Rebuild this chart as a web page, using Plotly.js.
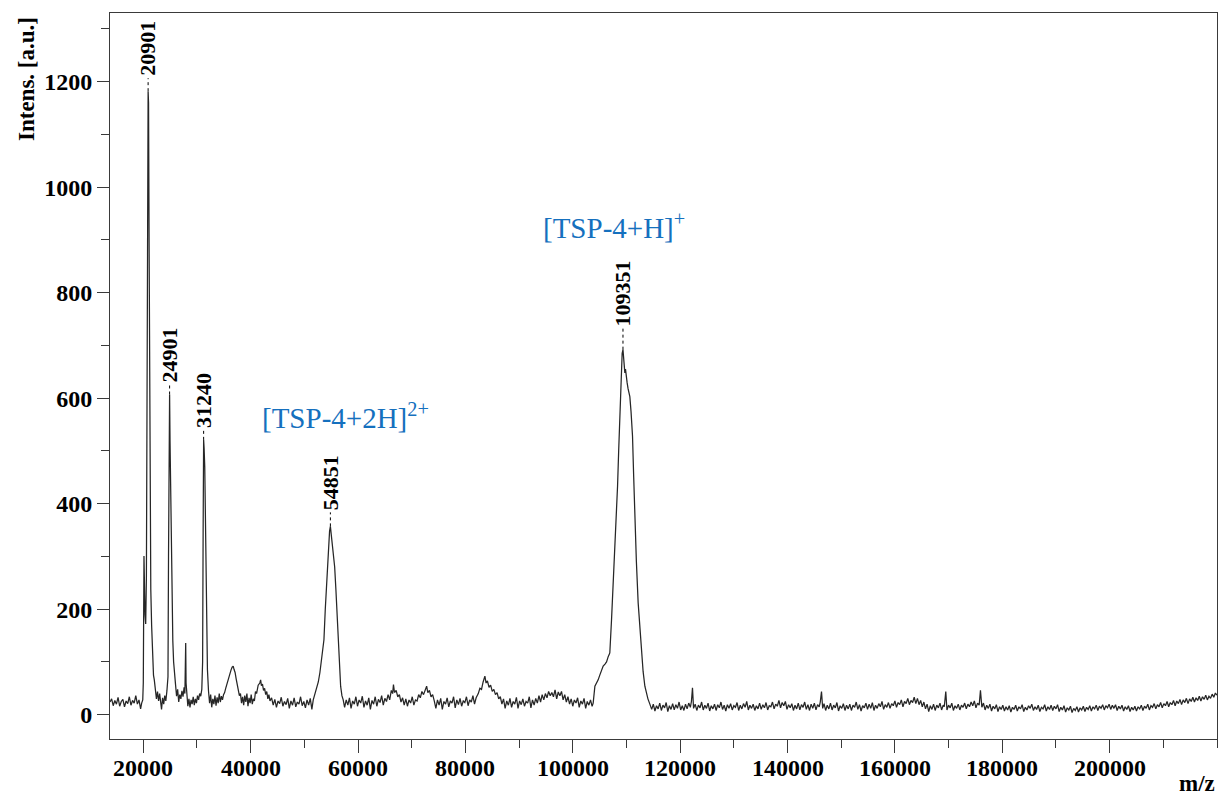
<!DOCTYPE html>
<html>
<head>
<meta charset="utf-8">
<script src="https://cdn.plot.ly/plotly-3.0.1.min.js"></script>
<style>html,body{margin:0;padding:0;background:#fff;}#chart{width:1220px;height:797px;}</style>
</head>
<body>
<div id="chart"></div>
<script>
// Spectrum as [m/z, intensity] pairs, by region
const lowMassRegion = [
[13800,24],[14100,30],[14400,17],[14700,27],[15000,20],[15300,33],[15600,16],[15900,25],[16200,29],[16500,15],
[16800,26],[17100,21],[17400,34],[17700,18],[18000,27],[18300,22],[18600,36],[18900,20],[19200,28],[19500,11],
[19700,22],[19900,28],[20000,60],[20060,180],[20130,301],[20200,260],[20320,190],[20450,172],[20580,260],[20700,600],
[20800,1000],[20901,1182],[20980,1160],[21080,900],[21200,500],[21300,280],[21400,237],[21550,170],[21750,88],[21900,75],
[22050,66],[22250,48],[22450,30],[22650,44],[22850,26],[23050,40],[23250,18],[23400,10],[23600,32],[23800,20],
[24000,36],[24200,26],[24400,45],[24600,72],[24700,300],[24760,487],[24830,540],[24901,607],[24980,520],[25080,420],
[25200,320],[25350,220],[25500,140],[25650,100],[25800,75],[26000,58],[26200,35],[26400,48],[26600,24],[26800,38],
[27000,30],[27200,45],[27400,34],[27600,52],[27750,40],[27830,90],[27900,136],[27970,60],[28100,32],[28300,16],
[28500,30],[28700,14],[28900,28],[29100,20],[29300,34],[29500,18],[29700,30],[29900,22],[30100,36],[30300,28],
[30500,40],[30700,35],[30900,48],[31050,100],[31150,350],[31240,521],[31330,505],[31450,470],[31550,400],[31680,260],
[31800,136],[31950,85],[32150,45],[32350,22],[32550,38],[32750,14],[32950,30],[33150,20],[33350,36],[33550,17],
[33750,33],[33950,22],[34150,40],[34350,24],[34550,35],[34750,28],[34950,38],[35150,42],[35350,50],[35550,58],
[35750,66],[35950,74],[36150,80],[36350,85],[36550,90],[36750,92],[36900,86],[37100,80],[37300,68],[37500,56],
[37700,44],[37900,36],[38100,40],[38300,22],[38500,34],[38700,18],[38900,36],[39100,24],[39300,40],[39500,16],
[39700,32],[39900,22],[40100,38],[40300,20],[40500,30],[40700,26],[40900,44],[41100,40],[41400,56],[41700,60],
[41860,66],[42000,55],[42200,58],[42400,46],[42600,50],[42800,38],[43000,44],[43200,30],[43400,38],[43600,26]
];
const dimerRegion = [
[43900,32],[44200,18],[44500,29],[44800,14],[45100,26],[45400,21],[45700,33],[46000,16],[46300,25],[46600,19],
[46900,31],[47200,12],[47500,26],[47800,18],[48100,32],[48400,15],[48700,24],[49000,20],[49300,34],[49600,17],
[49900,25],[50200,13],[50500,28],[50800,18],[51100,31],[51400,10],[51660,28],[52000,40],[52300,54],[52600,62],
[52900,80],[53300,110],[53650,142],[53900,200],[54150,256],[54350,300],[54580,338],[54700,348],[54851,357],[54980,345],
[55150,330],[55380,313],[55650,280],[55880,237],[56100,185],[56380,129],[56550,88],[56760,54],[57000,36],[57240,28],
[57500,14],[57800,28],[58100,18],[58400,32],[58700,12],[59000,26],[59300,20],[59600,34],[59900,16],[60200,28],
[60500,22],[60800,35],[61100,14],[61400,26],[61700,18],[62000,32],[62300,10],[62600,27],[62900,20],[63200,34],
[63500,16],[63800,29],[64100,23],[64400,36],[64700,18],[65000,31],[65300,25],[65600,38],[65900,28],[66200,46],
[66450,40],[66600,57],[66800,42],[67100,46],[67400,34],[67700,38],[68000,24],[68300,32],[68600,18],[68900,30],
[69200,16],[69500,28],[69800,22],[70100,34],[70400,18],[70700,28],[71000,26],[71300,38],[71600,32],[71900,44],
[72200,38],[72500,48],[72780,54],[73000,42],[73300,46],[73600,34],[73900,38],[74200,26],[74500,12],[74800,28],
[75100,18],[75400,31],[75700,10],[76000,25],[76300,20],[76600,32],[76900,15],[77200,26],[77500,22],[77800,34],
[78100,13],[78400,28],[78700,19],[79000,31],[79300,16],[79600,26],[79900,23],[80200,34],[80500,17],[80800,28],
[81100,24],[81400,36],[81700,20],[82000,32],[82400,40],[82700,50],[83000,48],[83300,62],[83630,73],[83850,60],
[84100,64],[84400,52],[84700,56],[85000,44],[85300,48],[85600,38],[85900,42],[86200,30],[86500,34],[86800,20],
[87100,30],[87400,12],[87700,26],[88000,18],[88300,31],[88600,14],[88900,25],[89200,20],[89500,33],[89800,12],
[90100,26],[90400,19],[90700,30],[91000,16],[91300,25],[91600,22],[91900,34],[92200,13],[92500,28],[92800,18],
[93100,31],[93400,22],[93700,36],[94000,24],[94300,38],[94600,28],[94900,40],[95200,32],[95500,44],[95800,36],
[96100,42],[96400,34],[96700,47],[97000,30],[97300,43],[97600,36],[97900,44],[98200,28],[98500,38],[98800,24],
[99100,34],[99400,20],[99700,30],[100000,16],[100300,28],[100600,22],[100900,32],[101200,14],[101500,26],[101800,20],
[102100,31],[102400,12],[102700,25],[103000,18],[103300,28],[103600,16],[103800,22]
];
const monomerRegion = [
[104120,54],[104500,60],[104730,66],[105000,74],[105300,84],[105660,92],[106000,96],[106290,100],[106600,110],[106900,117],
[107220,180],[107500,240],[107840,300],[108100,370],[108340,433],[108550,500],[108770,559],[108950,625],[109080,667],[109200,685],
[109351,692],[109450,672],[109580,660],[109700,648],[109820,655],[109950,636],[110130,629],[110300,618],[110480,610],[110630,603],
[110850,575],[111130,528],[111350,450],[111560,370],[111850,290],[112180,212],[112500,160],[112810,117],[113100,82],[113430,54],
[113700,40],[114000,30],[114360,20]
];
const highMassRegion = [
[114700,10],[115000,20],[115300,7],[115600,17],[115900,11],[116200,22],[116500,8],[116800,18],[117100,13],[117400,23],
[117700,6],[118000,17],[118300,10],[118600,21],[118900,9],[119200,19],[119500,12],[119800,24],[120100,9],[120400,17],
[120700,8],[121000,20],[121300,11],[121600,22],[121900,14],[122100,25],[122300,51],[122500,12],[122800,20],[123100,8],
[123400,18],[123700,13],[124000,24],[124300,9],[124600,18],[124900,12],[125200,22],[125500,7],[125800,17],[126100,11],
[126400,20],[126700,8],[127000,19],[127300,13],[127600,24],[127900,10],[128200,18],[128500,7],[128800,19],[129100,12],
[129400,21],[129700,9],[130000,17],[130300,14],[130600,23],[130900,8],[131200,18],[131500,11],[131800,21],[132100,14],
[132400,25],[132700,9],[133000,18],[133300,12],[133600,20],[133900,8],[134200,17],[134500,11],[134800,22],[135100,10],
[135400,19],[135700,13],[136000,23],[136300,9],[136600,17],[136900,15],[137200,24],[137500,11],[137800,20],[138100,16],
[138400,27],[138700,13],[139000,23],[139300,17],[139600,25],[139900,10],[140200,19],[140500,13],[140800,21],[141100,8],
[141400,18],[141700,11],[142000,22],[142300,9],[142600,19],[142900,14],[143200,24],[143500,10],[143800,19],[144100,8],
[144400,20],[144700,12],[145000,22],[145300,9],[145600,19],[145900,15],[146100,24],[146330,44],[146550,12],[146800,21],
[147100,8],[147400,18],[147700,11],[148000,22],[148300,9],[148600,18],[148900,13],[149200,23],[149500,7],[149800,17],
[150100,12],[150400,21],[150700,8],[151000,18],[151300,11],[151600,20],[151900,8],[152200,18],[152500,14],[152800,24],
[153100,10],[153400,19],[153700,7],[154000,17],[154300,13],[154600,22],[154900,10],[155200,20],[155500,12],[155800,23],
[156100,8],[156400,18],[156700,12],[157000,21],[157300,15],[157600,25],[157900,10],[158200,19],[158500,14],[158800,23],
[159100,12],[159400,21],[159700,17],[160000,26],[160300,14],[160600,23],[160900,19],[161200,28],[161500,15],[161800,25],
[162100,21],[162400,31],[162700,19],[163000,27],[163300,23],[163600,33],[163900,21],[164200,31],[164500,19],[164800,27],
[165100,15],[165400,24],[165700,11],[166000,20],[166300,6],[166600,17],[166900,10],[167200,20],[167500,8],[167800,18],
[168100,13],[168400,22],[168700,9],[169000,18],[169200,15],[169480,44],[169700,9],[170000,18],[170300,13],[170600,22],
[170900,8],[171200,17],[171500,12],[171800,20],[172100,9],[172400,18],[172700,14],[173000,22],[173300,11],[173600,20],
[173900,15],[174200,24],[174500,17],[174800,26],[175100,13],[175400,22],[175700,18],[175940,46],[176200,14],[176500,22],
[176800,9],[177100,18],[177400,12],[177700,20],[178000,7],[178300,16],[178600,11],[178900,19],[179200,6],[179500,15],
[179800,10],[180100,18],[180400,7],[180700,15],[181000,9],[181300,17],[181600,5],[181900,14],[182200,10],[182500,18],
[182800,7],[183100,15],[183400,11],[183700,19],[184000,6],[184300,14],[184600,9],[184900,17],[185200,12],[185500,20],
[185800,8],[186100,15],[186400,10],[186700,18],[187000,6],[187300,14],[187600,11],[187900,19],[188200,7],[188500,15],
[188800,10],[189100,18],[189400,8],[189700,16],[190000,11],[190300,19],[190600,6],[190900,14],[191200,9],[191500,17],
[191800,5],[192100,13],[192400,9],[192700,16],[193000,4],[193300,12],[193600,8],[193900,15],[194200,5],[194500,13],
[194800,9],[195100,16],[195400,6],[195700,14],[196000,10],[196300,17],[196600,7],[196900,15],[197200,11],[197500,18],
[197800,8],[198100,16],[198400,12],[198700,19],[199000,9],[199300,17],[199600,13],[199900,20],[200200,10],[200500,18],
[200800,12],[201100,19],[201400,8],[201700,16],[202000,11],[202300,18],[202600,7],[202900,15],[203200,10],[203500,17],
[203800,6],[204100,14],[204400,9],[204700,16],[205000,7],[205300,15],[205600,11],[205900,18],[206200,8],[206500,16],
[206800,12],[207100,20],[207400,9],[207700,17],[208000,14],[208300,21],[208600,11],[208900,19],[209200,15],[209500,23],
[209800,13],[210100,21],[210400,17],[210700,25],[211000,15],[211300,23],[211600,19],[211900,27],[212200,17],[212500,26],
[212800,21],[213100,29],[213400,19],[213700,28],[214000,23],[214300,31],[214600,21],[214900,30],[215200,25],[215500,33],
[215800,24],[216100,32],[216400,27],[216700,35],[217000,26],[217300,34],[217600,29],[217900,37],[218200,28],[218500,35],
[218800,31],[219100,39],[219400,33],[219700,41],[220000,37]
];

// Peak labels
const peakLabels = ['20901', '24901', '31240', '54851', '109351'];
const peakMz = [20901, 24901, 31240, 54851, 109351];
const peakApex = [1182, 607, 521, 357, 692];
const peakLeader = [13, 10, 10, 14, 21];   // dotted leader length, px

// Ion assignments
const ionLabels = ['[TSP-4+2H]<sup>2+</sup>', '[TSP-4+H]<sup>+</sup>'];
const ionMz = [41750, 94100];
const ionIntensity = [567, 927];

// Axis ticks
const xTickVals = [20000, 40000, 60000, 80000, 100000, 120000, 140000, 160000, 180000, 200000, 220000];
const xTickText = ['20000', '40000', '60000', '80000', '100000', '120000', '140000', '160000', '180000', '200000', ''];
const yTickVals = [0, 200, 400, 600, 800, 1000, 1200];
const yTickText = ['0', '200', '400', '600', '800', '1000', '1200'];

const spectrum = lowMassRegion.concat(dimerRegion, monomerRegion, highMassRegion);

const serif = 'Liberation Serif, Times New Roman, serif';
const axisColor = '#3a3a3a';
const boldFont = {family: serif, size: 24, color: '#000', weight: 'bold'};

const trace = {
  type: 'scatter', mode: 'lines',
  x: spectrum.map(p => p[0]),
  y: spectrum.map(p => p[1]),
  line: {color: '#262626', width: 1.25},
  hoverinfo: 'x+y'
};

const shapes = peakMz.map((m, i) => ({
  type: 'line', xref: 'x', yref: 'y', ysizemode: 'pixel', yanchor: peakApex[i],
  x0: m, x1: m, y0: 0, y1: peakLeader[i],
  line: {color: '#000', width: 1, dash: 'dot'}
}));

const annotations = peakMz.map((m, i) => ({
  x: m, y: peakApex[i], xref: 'x', yref: 'y',
  text: peakLabels[i], textangle: -90, showarrow: false,
  xanchor: 'center', yanchor: 'bottom', yshift: peakLeader[i],
  font: {family: serif, size: 22, color: '#000', weight: 'bold'}
}));

ionLabels.forEach((t, i) => {
  annotations.push({
    x: ionMz[i], y: ionIntensity[i], xref: 'x', yref: 'y',
    text: t, showarrow: false, xanchor: 'left', yanchor: 'middle',
    font: {family: serif, size: 29, color: '#1570be'}
  });
});

// x tick labels (placed closer to the axis than Plotly's default)
xTickVals.forEach((v, i) => {
  if (!xTickText[i]) return;
  annotations.push({
    x: v, xref: 'x', yref: 'paper', y: -0.0393,
    xanchor: 'center', yanchor: 'middle', showarrow: false,
    text: xTickText[i], font: boldFont
  });
});

annotations.push({
  xref: 'paper', yref: 'paper', x: -0.0759, y: 0.9972,
  xanchor: 'center', yanchor: 'top', textangle: -90, showarrow: false,
  text: 'Intens. [a.u.]',
  font: {family: serif, size: 23, color: '#000', weight: 'bold'}
});
annotations.push({
  xref: 'paper', yref: 'paper', x: 1.0, y: -0.042,
  xanchor: 'right', yanchor: 'top', showarrow: false,
  text: 'm/z',
  font: {family: serif, size: 23, color: '#000', weight: 'bold'}
});

const layout = {
  width: 1220, height: 797,
  margin: {l: 110, r: 3, t: 13, b: 58, pad: 0},
  paper_bgcolor: '#fff', plot_bgcolor: '#fff',
  showlegend: false,
  xaxis: {
    range: [13800, 220000], showgrid: false, zeroline: false,
    showline: true, linecolor: axisColor, linewidth: 1, mirror: true,
    ticks: 'outside', ticklen: 13, tickwidth: 1, tickcolor: axisColor,
    tickmode: 'array', tickvals: xTickVals, ticktext: xTickText,
    showticklabels: false,
    minor: {dtick: 10000, tick0: 0, ticks: 'outside', ticklen: 8, tickwidth: 1, tickcolor: axisColor, showgrid: false}
  },
  yaxis: {
    range: [-46.1, 1330.2], showgrid: false, zeroline: false,
    showline: true, linecolor: axisColor, linewidth: 1, mirror: true,
    ticks: 'outside', ticklen: 12, tickwidth: 1, tickcolor: axisColor,
    tickmode: 'array', tickvals: yTickVals, ticktext: yTickText,
    tickfont: boldFont,
    minor: {dtick: 100, tick0: 0, ticks: 'outside', ticklen: 8, tickwidth: 1, tickcolor: axisColor, showgrid: false}
  },
  shapes: shapes,
  annotations: annotations
};

Plotly.newPlot('chart', [trace], layout, {displayModeBar: false, staticPlot: true});
</script>
</body>
</html>
